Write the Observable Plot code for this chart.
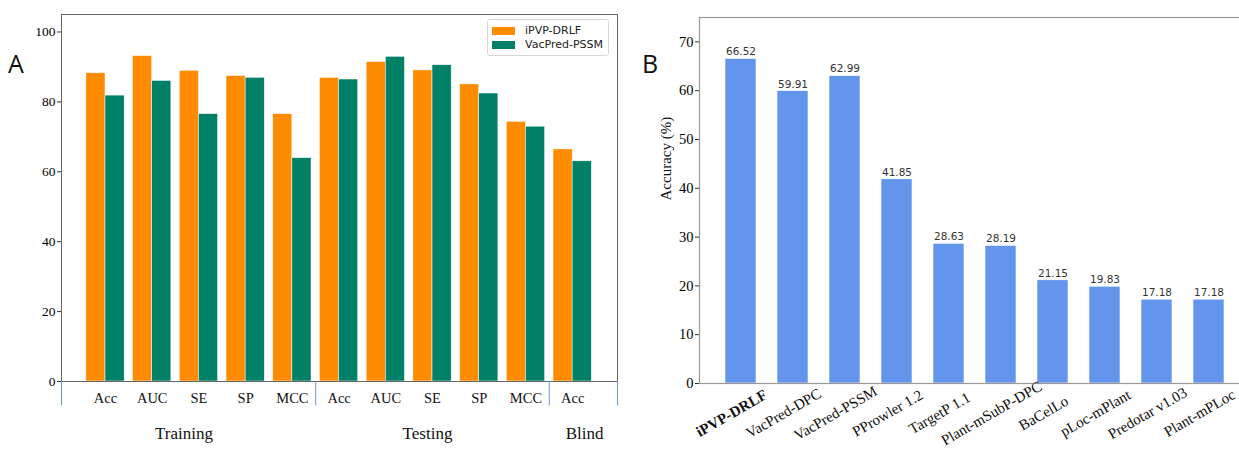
<!DOCTYPE html>
<html>
<head>
<meta charset="utf-8">
<script src="https://cdn.jsdelivr.net/npm/d3@7"></script>
<script src="https://cdn.jsdelivr.net/npm/@observablehq/plot@0.6"></script>
<style>
  html, body { margin: 0; padding: 0; background: #fff; }
  body { width: 1239px; height: 450px; overflow: hidden; position: relative; }
  .panel { position: absolute; top: 0; }
  .panel svg { max-width: none !important; }
  .letter { position: absolute; font-family: "Open Sans", "DejaVu Sans", sans-serif; font-size: 25px; color: #111; }
  .legend { position: absolute; left: 487px; top: 19px; width: 122px; height: 37px; border: 1px solid #d8d8d8; border-radius: 3px; background: #fff;
            font-family: "DejaVu Sans", sans-serif; font-size: 11px; color: #222; box-sizing: border-box; }
  .legend .row { position: absolute; left: 4px; display: flex; align-items: center; }
  .legend .sw { width: 23px; height: 8px; margin-right: 10px; }
</style>
</head>
<body>
<div id="A" class="panel" style="left:0px; width:630px"></div>
<div id="B" class="panel" style="left:630px; width:640px"></div>
<div class="letter" style="left:8px; top:46px">A</div>
<div class="letter" style="left:642px; top:46px">B</div>
<div class="legend" id="legend"></div>
<script>
// ---------- Panel A data ----------
const metricsA = ["Acc", "AUC", "SE", "SP", "MCC", "Acc", "AUC", "SE", "SP", "MCC", "Acc"];
const setsA = ["Training", "Training", "Training", "Training", "Training",
               "Testing", "Testing", "Testing", "Testing", "Testing", "Blind"];
const seriesA = ["iPVP-DRLF", "VacPred-PSSM"];
const ipvpA = [88.2, 93.1, 88.9, 87.4, 76.5, 86.9, 91.4, 89.0, 85.0, 74.3, 66.4];
const vacPssmA = [81.8, 86.0, 76.5, 86.9, 63.9, 86.4, 92.9, 90.5, 82.4, 72.9, 63.0];
const yTicksA = [0, 20, 40, 60, 80, 100];

// ---------- Panel B data ----------
const toolsB = ["iPVP-DRLF", "VacPred-DPC", "VacPred-PSSM", "PProwler 1.2", "TargetP 1.1",
                "Plant-mSubP-DPC", "BaCelLo", "pLoc-mPlant", "Predotar v1.03", "Plant-mPLoc"];
const accB = [66.52, 59.91, 62.99, 41.85, 28.63, 28.19, 21.15, 19.83, 17.18, 17.18];
const yTicksB = [0, 10, 20, 30, 40, 50, 60, 70];

const colorsA = ["#FF8C00", "#008066"];
const serif = "Liberation Serif, Times New Roman, serif";

// ---------- Build Panel A ----------
const half = 0.41;
const rowsA = [];
metricsA.forEach((m, i) => {
  rowsA.push({i, series: seriesA[0], value: ipvpA[i], x1: i - half, x2: i});
  rowsA.push({i, series: seriesA[1], value: vacPssmA[i], x1: i, x2: i + half});
});
const xDomA = [-0.942, metricsA.length - 1 + 0.96];
const seps = [xDomA[0], xDomA[1]];
for (let i = 1; i < setsA.length; i++) if (setsA[i] !== setsA[i - 1]) seps.push(i - 0.5);
const setNames = [...new Set(setsA)];
const setCenters = setNames.map(s => {
  const idx = setsA.map((v, i) => v === s ? i : null).filter(v => v !== null);
  return {name: s, x: d3.mean(idx)};
});
const setDx = {Training: -15, Testing: -5, Blind: 12};

const plotA = Plot.plot({
  width: 630, height: 450,
  marginLeft: 61, marginRight: 13, marginTop: 14, marginBottom: 69,
  style: {fontFamily: serif, background: "transparent", maxWidth: "none"},
  x: {type: "linear", domain: xDomA, axis: null},
  y: {domain: [0, 105], axis: null},
  color: {domain: seriesA, range: colorsA},
  marks: [
    Plot.rectY(rowsA, {x1: "x1", x2: "x2", y: "value", fill: "series", stroke: "white", strokeWidth: 0.5}),
    Plot.frame({stroke: "#666", strokeWidth: 1}),
    Plot.ruleX(seps, {y1: 0, y2: -7, stroke: "#6e95d8", strokeWidth: 1}),
    Plot.axisY({ticks: yTicksA, tickSize: 4, tickPadding: 2, fontSize: 13.5, label: null, stroke: "#333"}),
    Plot.axisX({ticks: d3.range(metricsA.length), tickFormat: i => metricsA[i], tickSize: 0, tickPadding: 11, fontSize: 14.5, label: null, fill: "#111"}),
    ...setCenters.map(s => Plot.text([s], {x: "x", y: 0, text: "name", dy: 52, dx: setDx[s.name] || 0, fontSize: 17, fill: "#111"}))
  ]
});
document.getElementById("A").append(plotA);

// legend
const leg = document.getElementById("legend");
seriesA.forEach((s, k) => {
  const r = document.createElement("div");
  r.className = "row";
  r.style.top = (k === 0 ? 4 : 18) + "px";
  r.innerHTML = `<span class="sw" style="background:${colorsA[k]}"></span><span>${s}</span>`;
  leg.append(r);
});

// ---------- Build Panel B ----------
const rowsB = toolsB.map((t, i) => ({tool: t, acc: accB[i], bold: i === 0}));
const labelOpts = {x: "tool", text: "tool", frameAnchor: "bottom", rotate: -30, textAnchor: "middle", dx: -7, dy: 34, fontSize: 15, fill: "#111"};
const plotB = Plot.plot({
  width: 640, height: 450,
  marginLeft: 69, marginRight: 20, marginTop: 17, marginBottom: 67,
  style: {fontFamily: serif, background: "transparent", maxWidth: "none"},
  x: {domain: toolsB, paddingInner: 0.4, paddingOuter: 0.48, axis: null},
  y: {domain: [0, 75], axis: null},
  marks: [
    Plot.barY(rowsB, {x: "tool", y: "acc", fill: "#6495ED", stroke: "white", strokeWidth: 0.6}),
    Plot.frame({stroke: "#999", strokeWidth: 1.2}),
    Plot.text(rowsB, {x: "tool", y: "acc", text: d => d.acc.toFixed(2), dy: -7, fontSize: 10.5, fill: "#333", fontFamily: "DejaVu Sans, sans-serif"}),
    Plot.axisY({ticks: yTicksB, tickSize: 4, tickPadding: 2, fontSize: 14.5, label: null, stroke: "#333"}),
    Plot.text(["Accuracy (%)"], {frameAnchor: "left", rotate: -90, dx: -33, fontSize: 15, fill: "#111"}),
    Plot.text(rowsB.filter(d => !d.bold), labelOpts),
    Plot.text(rowsB.filter(d => d.bold), {...labelOpts, fontWeight: "bold"})
  ]
});
document.getElementById("B").append(plotB);
</script>
</body>
</html>
